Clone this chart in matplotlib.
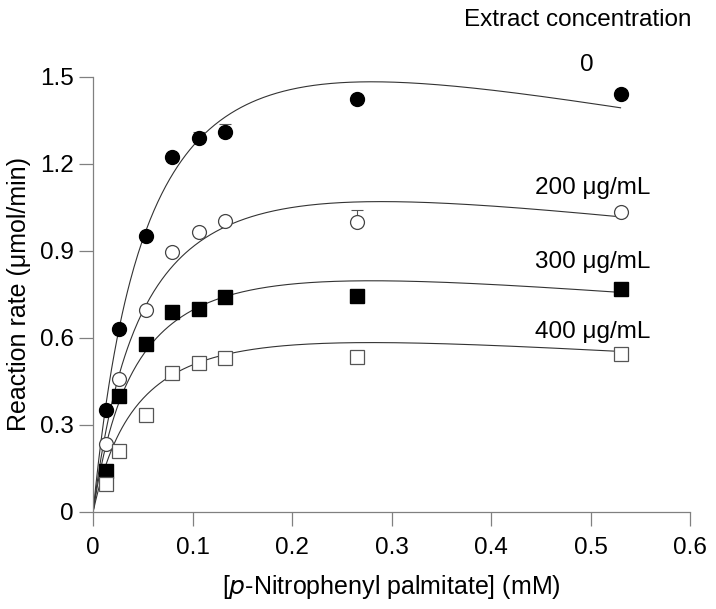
import numpy as np
import matplotlib
matplotlib.use("Agg")
import matplotlib.pyplot as plt

plt.rcParams['font.family'] = ['Liberation Sans', 'DejaVu Sans']

# substrate concentrations (mM)
substrate = [0.0133, 0.0265, 0.053, 0.0795, 0.106, 0.1325, 0.265, 0.53]

# reaction rates (umol/min) per extract concentration
rate_0 = [0.35, 0.63, 0.95, 1.225, 1.29, 1.31, 1.425, 1.44]
rate_200 = [0.235, 0.46, 0.695, 0.895, 0.965, 1.005, 1.0, 1.035]
rate_300 = [0.14, 0.40, 0.58, 0.69, 0.70, 0.74, 0.745, 0.77]
rate_400 = [0.095, 0.21, 0.335, 0.48, 0.515, 0.53, 0.535, 0.545]

err_0 = [0, 0, 0, 0, 0.02, 0.028, 0, 0.015]
err_200 = [0, 0, 0, 0, 0, 0, 0.04, 0]
err_300 = [0, 0, 0, 0, 0, 0, 0, 0]
err_400 = [0, 0, 0, 0, 0, 0, 0, 0]

# fitted substrate-inhibition parameters (Vmax, Km, Ki)
vmax = [2.136, 1.477, 1.065, 0.792]
km = [0.0616, 0.0551, 0.0470, 0.0498]
ki = [1.273, 1.526, 1.667, 1.573]

labels = ['0', '200 \u03bcg/mL', '300 \u03bcg/mL', '400 \u03bcg/mL']
label_y = [1.541, 1.117, 0.862, 0.621]
label_x = [0.4965, 0.5015, 0.5015, 0.5015]

fig = plt.figure(figsize=(7.16, 6.09), dpi=100)
ax = fig.add_axes([0.130, 0.1593, 0.834, 0.7143])

series = [rate_0, rate_200, rate_300, rate_400]
errs = [err_0, err_200, err_300, err_400]
styles = [
    dict(marker='o', mfc='black', mec='black', ms=10),
    dict(marker='o', mfc='white', mec='#444444', ms=10, mew=0.9),
    dict(marker='s', mfc='black', mec='black', ms=9.5),
    dict(marker='s', mfc='white', mec='#555555', ms=9.5, mew=0.9),
]

xs = np.linspace(0, substrate[-1], 400)
for i in range(4):
    curve = vmax[i] * xs / (km[i] + xs + xs ** 2 / ki[i])
    ax.plot(xs, curve, color='#333333', lw=0.8, zorder=2)
    ax.errorbar(substrate, series[i], yerr=[np.zeros(8), errs[i]], fmt='none',
                ecolor='#555555', elinewidth=0.8, capsize=4, capthick=0.8, zorder=2.5)
    ax.plot(substrate, series[i], ls='none', zorder=3, clip_on=False, **styles[i])
    ax.text(label_x[i], label_y[i], labels[i], ha='center', va='center', fontsize=17.5,
            clip_on=False)

ax.text(0.487, 1.697, 'Extract concentration', ha='center', va='center', fontsize=17.5)

ax.set_xlim(0, 0.6)
ax.set_ylim(0, 1.5)
ax.set_xticks([0, 0.1, 0.2, 0.3, 0.4, 0.5, 0.6])
ax.set_xticklabels(['0', '0.1', '0.2', '0.3', '0.4', '0.5', '0.6'])
ax.set_yticks([0, 0.3, 0.6, 0.9, 1.2, 1.5])
ax.set_yticklabels(['0', '0.3', '0.6', '0.9', '1.2', '1.5'])

for s in ['top', 'right']:
    ax.spines[s].set_visible(False)
for s in ['left', 'bottom']:
    ax.spines[s].set_color('#808080')
    ax.spines[s].set_linewidth(0.9)
ax.tick_params(direction='out', length=10, width=0.9, color='#808080',
               labelsize=17.5)
ax.tick_params(axis='x', pad=8)
ax.tick_params(axis='y', pad=4)

ax.set_xlabel('[$\\it{p}$-Nitrophenyl palmitate] (mM)', fontsize=18, labelpad=10)
ax.set_ylabel('Reaction rate (\u03bcmol/min)', fontsize=18, labelpad=6)

fig.savefig('out.png', dpi=100)
